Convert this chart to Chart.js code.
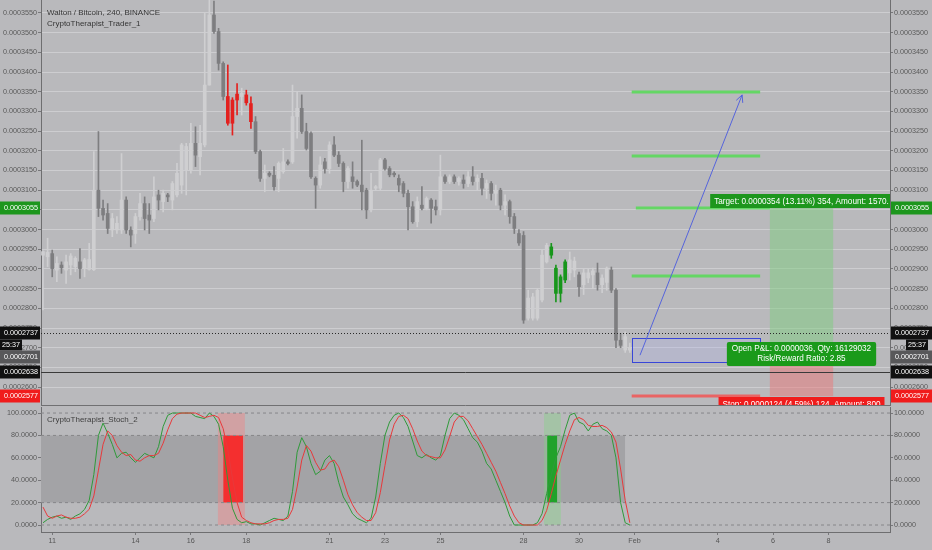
<!DOCTYPE html>
<html>
<head>
<meta charset="utf-8">
<script src="https://cdn.jsdelivr.net/npm/chart.js@4.4.1/dist/chart.umd.min.js"></script>
<style>
  body { margin: 0; background: #b9b9bc; width: 932px; height: 550px; overflow: hidden; position: relative; }
  canvas { position: absolute; left: 0; }
  #main { top: 0; }
  #stoch { top: 406px; }
</style>
</head>
<body>
<canvas id="main" width="932" height="406"></canvas>
<canvas id="stoch" width="932" height="144"></canvas>
<script>
// prices are in units of 0.0000001 BTC (3550 = 0.0003550), one candle = 4h, index 0 = Jan 10 16:00
const opens = [2935,2931,2939,2897,2910,2897,2910,2906,2918,2901,2899,2898,3100,3054,3041,2999,2999,2999,3075,2999,
  2990,3033,3066,3037,3028,3088,3071,3088,3075,3088,3113,3151,3151,3219,3185,3215,3367,3545,3503,3422,
  3338,3329,3344,3338,3342,3320,3274,3198,3130,3143,3138,3130,3147,3172,3172,3287,3308,3249,3244,3130,
  3113,3172,3155,3215,3189,3168,3122,3134,3122,3113,3100,3050,3105,3105,3177,3155,3143,3130,3117,3092,
  3058,3020,3062,3054,3075,3058,3050,3134,3122,3134,3122,3126,3117,3134,3122,3130,3105,3117,3092,3100,
  3062,3071,3033,2990,2985,2775,2775,2775,2821,2918,2935,2902,2838,2872,2890,2897,2885,2860,2877,2885,
  2890,2860,2866,2897,2846,2719,2694,2694];
const highs = [2946,2978,2948,2931,2918,2935,2939,2931,2952,2927,2965,3198,3249,3075,3066,3041,3033,3193,3083,3007,
  3041,3092,3083,3066,3134,3100,3100,3092,3122,3168,3219,3219,3270,3261,3265,3549,3600,3580,3511,3426,
  3418,3335,3371,3359,3354,3337,3287,3202,3164,3147,3160,3172,3206,3177,3367,3350,3342,3270,3248,3134,
  3185,3181,3223,3236,3198,3172,3160,3172,3126,3227,3105,3143,3112,3181,3181,3160,3147,3139,3122,3100,
  3071,3083,3109,3083,3079,3075,3189,3139,3139,3139,3134,3139,3147,3160,3139,3143,3126,3122,3113,3105,
  3088,3075,3041,3000,2995,2846,2838,2850,2948,2965,2965,2910,2885,2923,2943,2930,2892,2900,2900,2902,
  2915,2885,2905,2905,2850,2736,2740,2712];
const lows = [2796,2906,2880,2868,2889,2863,2885,2893,2876,2880,2897,2896,3033,3024,2990,2982,2990,2990,2990,2956,
  2965,3024,2999,2990,3020,3050,3045,3071,3050,3083,3092,3088,3143,3160,3139,3210,3367,3498,3405,3329,
  3265,3240,3291,3291,3316,3257,3193,3122,3096,3134,3100,3096,3143,3164,3168,3232,3244,3202,3130,3054,
  3105,3143,3143,3185,3160,3096,3105,3105,3109,3050,3028,3045,3100,3100,3151,3134,3134,3096,3083,2999,
  3016,3007,3050,3050,3016,3037,3037,3117,3117,3117,3113,3105,3109,3113,3100,3088,3079,3075,3062,3050,
  3037,3016,2990,2960,2762,2770,2770,2770,2816,2915,2927,2816,2816,2865,2872,2880,2830,2835,2865,2850,
  2846,2840,2846,2840,2700,2700,2688,2688];
const closes = [2944,2942,2901,2914,2903,2918,2933,2927,2901,2923,2924,3100,3054,3037,3003,3028,3016,3075,2999,2986,
  3033,3066,3028,3024,3083,3075,3092,3083,3117,3143,3215,3211,3219,3189,3219,3367,3545,3503,3422,3338,
  3270,3270,3329,3346,3322,3274,3198,3130,3143,3138,3109,3168,3172,3168,3287,3308,3249,3206,3134,3113,
  3164,3155,3215,3189,3168,3122,3155,3122,3113,3096,3050,3100,3109,3177,3155,3139,3139,3113,3092,3058,
  3020,3071,3054,3079,3054,3050,3134,3122,3134,3122,3130,3117,3134,3122,3130,3105,3117,3092,3100,3062,
  3071,3033,3003,2966,2770,2826,2829,2846,2935,2960,2956,2838,2880,2918,2923,2920,2855,2890,2890,2895,
  2860,2877,2902,2846,2719,2706,2728,2701];
const redCandles = [40, 41, 42, 44, 45];
const greenCandles = [110, 111, 112, 113];

// stochastic %K (green) and %D (red)
const stochK = [2,5,7,8,6,7,5,8,10,14, 22,45,80,91,82,72,60,64,65,60, 56,60,64,62,60,70,88,98,100,100,
  100,100,100,97,96,95,100,97,90,70, 40,15,5,2,3,1,1,0,2,4, 6,5,4,8,30,65,78,70,55,45,
  48,58,62,55,38,25,18,10,6,4, 2,6,25,55,80,92,98,100,96,88, 75,62,60,63,60,58,62,80,95,100,
  98,94,86,78,74,66,55,50,40,30, 20,8,0,0,0,0,0,2,10,28, 45,60,70,85,98,100,92,90,84,90,
  92,86,84,80,60,20,2,0];
const stochD = [16,8,6,8,9,7,6,6,7,10, 14,26,49,72,84,80,71,65,62,63, 58,57,60,62,62,64,73,85,95,99,
  100,100,100,100,98,96,97,98,96,86, 67,42,20,7,4,2,1,1,1,2, 4,5,5,6,14,34,58,71,66,56,
  49,50,56,58,52,40,27,18,11,7, 4,4,11,29,53,76,90,97,98,95, 86,75,66,62,61,60,60,67,79,92,
  97,97,93,86,79,72,64,56,48,38, 28,17,8,2,0,0,0,0,4,13, 28,44,58,72,84,94,96,94,89,88,
  88,89,87,83,74,50,22,2];
const stochLevels = [100, 80, 20, 0];
const stochTicks = [0, 20, 40, 60, 80, 100];

// time axis
const tickIndex = [2, 20, 32, 44, 62, 74, 86, 104, 116, 128, 146, 158, 170];
const tickLabels = ['11', '14', '16', '18', '21', '23', '25', '28', '30', 'Feb', '4', '6', '8'];
const xMin = -0.43, xMax = 183.3;

// long position tool
const targetLevels = [3350, 3187, 3055, 2883];
const entryPrice = 2701, targetPrice = 3055, stopPrice = 2577;
const entryBox = [2725, 2664];
const arrowFrom = [129.2, 2681], arrowTo = [151.3, 3342];
const priceTags = [[3055, '0.0003055', '#1d961d'], [2737, '0.0002737', '#111'], [2701, '0.0002701', '#58585a'],
  [2638, '0.0002638', '#111'], [2577, '0.0002577', '#f01c1c']];

Chart.defaults.font.family = '"Liberation Sans", Arial, sans-serif';
Chart.defaults.font.size = 7.2;
Chart.defaults.color = '#555';

const fmtPrice = v => '0.000' + String(v).padStart(4, '0');

function candleColor(i) {
    if (redCandles.includes(i)) return '#e3211f';
    if (greenCandles.includes(i)) return '#18961c';
    return closes[i] >= opens[i] ? '#cfcfd1' : '#7e7e80';
}

// fixed axis width, no extra padding for the edge labels
function fixWidth(w) {
    return s => { s.width = w; s.paddingTop = 0; s.paddingBottom = 0; };
}

const mainOverlay = {
    id: 'mainOverlay',
    afterDraw(chart) {
        const { ctx, chartArea: a, scales: { x, y } } = chart;
        const px = v => x.getPixelForValue(v);
        const py = v => y.getPixelForValue(v);
        ctx.save();
        ctx.beginPath();
        ctx.rect(a.left, a.top, a.right - a.left, a.bottom - a.top);
        ctx.clip();

        // profit / loss zones
        const z1 = px(157.3), z2 = px(171);
        ctx.fillStyle = 'rgba(125,205,125,0.5)';
        ctx.fillRect(z1, py(targetPrice), z2 - z1, py(entryPrice) - py(targetPrice));
        ctx.fillStyle = 'rgba(235,120,120,0.5)';
        ctx.fillRect(z1, py(entryPrice), z2 - z1, py(stopPrice) - py(entryPrice));

        // target and stop lines
        ctx.lineWidth = 3;
        targetLevels.forEach(p => {
            ctx.strokeStyle = 'rgba(95,215,95,0.95)';
            ctx.beginPath();
            const from = p === targetPrice ? px(128.3) : px(127.4);
            const to = p === targetPrice ? z1 : px(155.2);
            ctx.moveTo(from, Math.round(py(p)));
            ctx.lineTo(to, Math.round(py(p)));
            ctx.stroke();
        });
        ctx.strokeStyle = 'rgba(235,95,95,0.95)';
        ctx.beginPath();
        ctx.moveTo(px(127.4), Math.round(py(stopPrice)));
        ctx.lineTo(px(155.2), Math.round(py(stopPrice)));
        ctx.stroke();

        // entry box
        ctx.lineWidth = 1;
        ctx.fillStyle = 'rgba(175,180,235,0.3)';
        ctx.strokeStyle = '#3846d8';
        const bx = Math.round(px(127.4)) + 0.5, by = Math.round(py(entryBox[0])) + 0.5;
        const bw = Math.round(px(155.2) - px(127.4)), bh = Math.round(py(entryBox[1]) - py(entryBox[0]));
        ctx.fillRect(bx, by, bw, bh);
        ctx.strokeRect(bx, by, bw, bh);

        // arrow
        const ax1 = px(arrowFrom[0]), ay1 = py(arrowFrom[1]), ax2 = px(arrowTo[0]), ay2 = py(arrowTo[1]);
        ctx.strokeStyle = '#5564dc';
        ctx.beginPath();
        ctx.moveTo(ax1, ay1);
        ctx.lineTo(ax2, ay2);
        const ang = Math.atan2(ay2 - ay1, ax2 - ax1);
        [0.45, -0.45].forEach(d => {
            ctx.moveTo(ax2, ay2);
            ctx.lineTo(ax2 - 8 * Math.cos(ang + d), ay2 - 8 * Math.sin(ang + d));
        });
        ctx.stroke();

        // last close dotted line and solid level line
        ctx.strokeStyle = '#2a2a2a';
        ctx.setLineDash([1, 2]);
        ctx.beginPath();
        ctx.moveTo(a.left, Math.round(py(2737)) + 0.5);
        ctx.lineTo(a.right, Math.round(py(2737)) + 0.5);
        ctx.stroke();
        ctx.setLineDash([]);
        ctx.strokeStyle = '#3a3a3a';
        ctx.beginPath();
        ctx.moveTo(a.left, Math.round(py(2638)) + 0.5);
        ctx.lineTo(a.right, Math.round(py(2638)) + 0.5);
        ctx.stroke();

        // labels of the position tool
        const cx = (z1 + z2) / 2;
        ctx.font = '8.2px "Liberation Sans", Arial, sans-serif';
        ctx.textBaseline = 'middle';
        ctx.textAlign = 'center';
        const label = (text, yTop, bg) => {
            const w = ctx.measureText(text).width + 8;
            ctx.fillStyle = bg;
            ctx.fillRect(cx - w / 2, yTop, w, 14);
            ctx.fillStyle = '#fff';
            ctx.fillText(text, cx, yTop + 7.5);
        };
        label('Target: 0.0000354 (13.11%) 354, Amount: 1570.', Math.round(py(targetPrice)) - 14, '#1d961d');
        label('Stop: 0.0000124 (4.59%) 124, Amount: 800', Math.round(py(stopPrice)) + 1, '#f01c1c');
        const pl1 = 'Open P&L: 0.0000036, Qty: 16129032';
        const pw = ctx.measureText(pl1).width + 10;
        const pt = Math.round(py(entryPrice)) - 5;
        ctx.fillStyle = '#1a9a1a';
        ctx.beginPath();
        ctx.roundRect(cx - pw / 2, pt, pw, 24, 2);
        ctx.fill();
        ctx.fillStyle = '#fff';
        ctx.fillText(pl1, cx, pt + 7);
        ctx.fillText('Risk/Reward Ratio: 2.85', cx, pt + 17);
        ctx.restore();

        // pane separator
        ctx.save();
        ctx.strokeStyle = '#707072';
        ctx.beginPath();
        ctx.moveTo(a.left, a.bottom - 0.5);
        ctx.lineTo(a.right, a.bottom - 0.5);
        ctx.stroke();

        // price tags on both axes, pushed down when they would overlap
        ctx.font = '7.2px "Liberation Sans", Arial, sans-serif';
        ctx.textBaseline = 'middle';
        ctx.textAlign = 'left';
        let prevBottom = -100;
        priceTags.forEach(([p, text, bg]) => {
            const top = Math.max(Math.round(py(p)) - 6.5, prevBottom);
            ctx.fillStyle = bg;
            ctx.fillRect(0, top, a.left - 1, 13);
            ctx.fillRect(a.right + 1, top, chart.width - a.right - 1, 13);
            ctx.fillStyle = '#fff';
            ctx.fillText(text, 4, top + 7);
            ctx.fillText(text, a.right + 5, top + 7);
            prevBottom = top + 13;
            if (p === 2737) {
                // bar countdown under the last close tag
                ctx.fillStyle = '#111';
                ctx.fillRect(0, prevBottom, 22, 11);
                ctx.fillRect(906, prevBottom, 22, 11);
                ctx.fillStyle = '#fff';
                ctx.fillText('25:37', 2, prevBottom + 6);
                ctx.fillText('25:37', 908, prevBottom + 6);
                prevBottom += 11;
            }
        });

        // titles
        ctx.font = '8px "Liberation Sans", Arial, sans-serif';
        ctx.fillStyle = '#353535';
        ctx.textBaseline = 'alphabetic';
        ctx.fillText('Walton / Bitcoin, 240, BINANCE', 47, 15);
        ctx.fillText('CryptoTherapist_Trader_1', 47, 26);
        ctx.restore();
    }
};

const idx = opens.map((_, i) => i);
const colors = idx.map(candleColor);

const priceAxis = (pos, w, onChart) => ({
    position: pos, min: 2552, max: 3583,
    afterFit: fixWidth(w),
    ticks: { stepSize: 50, includeBounds: false, callback: v => fmtPrice(v), padding: 1, color: '#5a5a5a' },
    grid: { drawOnChartArea: onChart, color: '#cdcdd0', tickColor: '#77777a', tickLength: 3 },
    border: { color: '#6e6e70' }
});

new Chart(document.getElementById('main'), {
    type: 'bar',
    data: {
        datasets: [
            { data: idx.map(i => ({ x: i, y: [lows[i], highs[i]] })), backgroundColor: colors, barThickness: 1, grouped: false },
            { data: idx.map(i => ({ x: i, y: [opens[i], closes[i]] })), backgroundColor: colors, barThickness: 3, minBarLength: 1, grouped: false }
        ]
    },
    options: {
        responsive: false, animation: false, devicePixelRatio: 1,
        layout: { padding: 0 },
        plugins: { legend: { display: false }, tooltip: { enabled: false } },
        scales: {
            x: { type: 'linear', min: xMin, max: xMax, offset: false, display: false },
            y: priceAxis('left', 41, true),
            y2: priceAxis('right', 42, false)
        }
    },
    plugins: [mainOverlay]
});

// stochastic pane
const stochTitle = {
    id: 'stochTitle',
    afterDraw(chart) {
        const ctx = chart.ctx;
        ctx.save();
        ctx.font = '8px "Liberation Sans", Arial, sans-serif';
        ctx.fillStyle = '#404040';
        ctx.fillText('CryptoTherapist_Stoch_2', 47, 16);
        ctx.restore();
    }
};

const zone = (x1, x2, top, bottom, color, order) => ({
    data: [{ x: x1, y: top }, { x: x2, y: top }],
    fill: { value: bottom }, backgroundColor: color, borderWidth: 0, pointRadius: 0, order: order
});

const stochSets = [
    { data: idx.map(i => ({ x: i, y: stochD[i] })), borderColor: '#e8393b', borderWidth: 1, pointRadius: 0, order: 0 },
    { data: idx.map(i => ({ x: i, y: stochK[i] })), borderColor: '#2f9a3a', borderWidth: 1, pointRadius: 0, order: 1 }
];
stochLevels.forEach(l => stochSets.push({
    data: [{ x: xMin, y: l }, { x: xMax, y: l }], borderColor: '#868689', borderWidth: 1,
    borderDash: [3, 3], pointRadius: 0, order: 2
}));
stochSets.push(zone(39.0, 43.3, 80, 20, 'rgba(250,35,35,0.9)', 3));
stochSets.push(zone(109.1, 111.3, 80, 20, 'rgba(20,160,30,0.9)', 3));
stochSets.push(zone(37.8, 43.7, 100, 0, 'rgba(245,125,125,0.4)', 4));
stochSets.push(zone(108.4, 112.1, 100, 0, 'rgba(125,215,125,0.35)', 4));
stochSets.push(zone(xMin, 126, 80, 20, '#a3a3a6', 5));

const stochScaleY = pos => ({
    position: pos, min: -6.25, max: 105.4,
    afterFit: fixWidth(pos === 'left' ? 41 : 42),
    afterBuildTicks: s => { s.ticks = stochTicks.map(v => ({ value: v })); },
    ticks: { callback: v => v.toFixed(4), padding: 1, color: '#5a5a5a' },
    grid: { drawOnChartArea: false, tickColor: '#77777a', tickLength: 3 },
    border: { color: '#6e6e70' }
});

new Chart(document.getElementById('stoch'), {
    type: 'line',
    data: { datasets: stochSets },
    options: {
        responsive: false, animation: false, devicePixelRatio: 1,
        layout: { padding: { top: 1 } },
        plugins: { legend: { display: false }, tooltip: { enabled: false } },
        scales: {
            x: {
                type: 'linear', min: xMin, max: xMax,
                afterFit: s => { s.height = 18; s.paddingLeft = 0; s.paddingRight = 0; },
                afterBuildTicks: s => { s.ticks = tickIndex.map(v => ({ value: v })); },
                ticks: { callback: (v, i) => tickLabels[i], autoSkip: false, maxRotation: 0, padding: 2, color: '#555' },
                grid: { drawOnChartArea: false, tickColor: '#77777a', tickLength: 3 },
                border: { color: '#6e6e70' }
            },
            y: stochScaleY('left'),
            y2: stochScaleY('right')
        }
    },
    plugins: [stochTitle]
});
</script>
</body>
</html>
